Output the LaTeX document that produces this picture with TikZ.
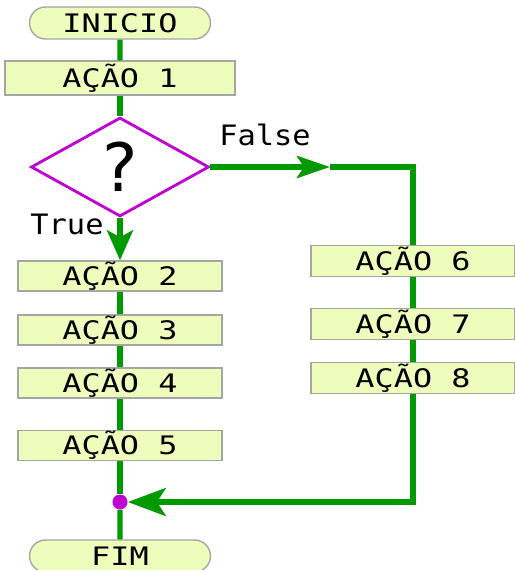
\documentclass[tikz,border=0pt]{standalone}
\usepackage{fontspec}
\setmonofont{DejaVu Sans Mono}
\newfontfamily\boxfont[FakeStretch=1.25]{DejaVu Sans Mono}
\newfontfamily\labelfont[FakeStretch=1.08]{DejaVu Sans Mono}
\newfontfamily\signfont{DejaVu Sans}
\usetikzlibrary{shapes.geometric, shapes.misc, arrows.meta}

\definecolor{boxfill}{RGB}{238,252,188}
\definecolor{boxline}{RGB}{165,165,165}
\definecolor{flowgreen}{RGB}{0,153,0}
\definecolor{testpurple}{RGB}{190,0,210}

\tikzset{
  acao/.style = {draw=boxline, fill=boxfill, line width=0.8pt, inner sep=0pt,
    minimum width=4.08cm, minimum height=0.6cm,
    font=\boxfont\fontsize{14.5}{16}\selectfont},
  terminal/.style = {acao, rounded rectangle, minimum width=3.62cm, minimum height=0.64cm},
  teste/.style = {diamond, draw=testpurple, line width=1.6pt, inner sep=0pt,
    minimum width=3.56cm, minimum height=1.98cm,
    font=\signfont\fontsize{38}{40}\selectfont},
  fluxo/.style = {draw=flowgreen, line width=3pt},
  rotulo/.style = {font=\labelfont\fontsize{16}{18}\selectfont}
}

\begin{document}
\begin{tikzpicture}[x=0.02cm, y=-0.02cm]
  \useasboundingbox (0,0) rectangle (514,570);

  % left column
  \node[terminal] (ini) at (120,23) {INICIO};
  \node[acao, minimum width=4.6cm, minimum height=0.68cm] (a1) at (120,78) {AÇÃO 1};
  \node[teste] (q) at (120,167) {?};
  \node[acao] (a2) at (120,276) {AÇÃO 2};
  \node[acao] (a3) at (120,330) {AÇÃO 3};
  \node[acao] (a4) at (120,383) {AÇÃO 4};
  \node[acao] (a5) at (120,445.5) {AÇÃO 5};
  \node[circle, fill=testpurple, inner sep=0pt, minimum size=0.3cm] (jn) at (120,502) {};
  \node[terminal] (fim) at (120,556) {FIM};

  % right column
  \node[acao, minimum height=0.62cm] (a6) at (413,261) {AÇÃO 6};
  \node[acao, minimum height=0.62cm] (a7) at (413,324) {AÇÃO 7};
  \node[acao, minimum height=0.62cm] (a8) at (413,378) {AÇÃO 8};
  \coordinate (fmid) at (330,167);

  \node[rotulo] (lfalse) at (265,135) {False};
  \node[rotulo] (ltrue) at (67,224) {True};

  % connectors
  \draw[fluxo] (ini) -- (a1);
  \draw[fluxo] (a1) -- (q);
  \draw[fluxo, -{Stealth[length=0.6cm, width=0.52cm, inset=0.14cm]}] (q.south) -- (a2.north);
  \draw[fluxo] (a2) -- (a3);
  \draw[fluxo] (a3) -- (a4);
  \draw[fluxo] (a4) -- (a5);
  \draw[fluxo] (a5) -- (jn);
  \draw[fluxo] (jn) -- (fim);

  \draw[fluxo, -{Stealth[length=0.66cm, width=0.44cm, inset=0.14cm]}] (q.east) -- (fmid);
  \draw[fluxo] (fmid) -| (a6.north);
  \draw[fluxo] (a6) -- (a7);
  \draw[fluxo] (a7) -- (a8);
  \draw[fluxo, -{Stealth[length=0.76cm, width=0.56cm, inset=0.18cm]}] (a8.south) |- (jn);
\end{tikzpicture}
\end{document}
